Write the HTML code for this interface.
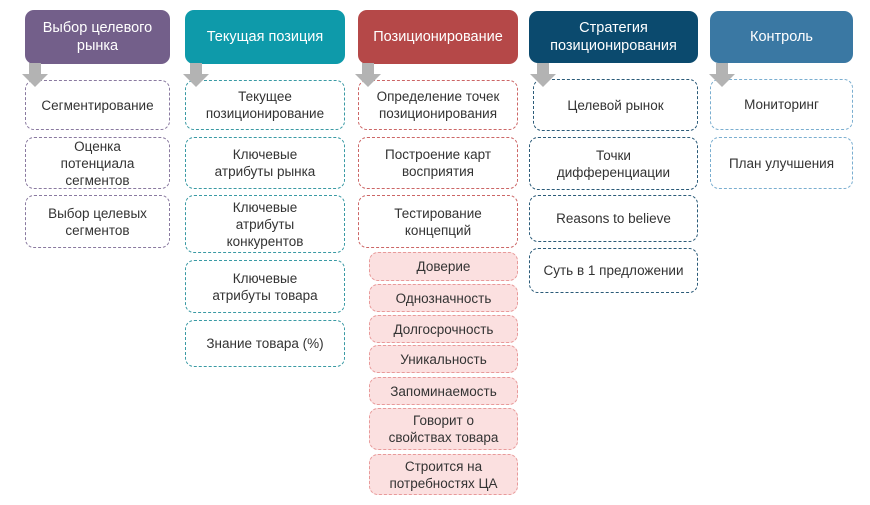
<!DOCTYPE html><html><head><meta charset="utf-8"><style>
body{margin:0;width:870px;height:505px;background:#fff;position:relative;overflow:hidden;font-family:"Liberation Sans","Noto Sans CJK SC",sans-serif}
.h{position:absolute;border-radius:9px;color:#fff;font-size:14.5px;display:flex;align-items:center;justify-content:center;text-align:center;line-height:18px}
.b{position:absolute;border-radius:9px;background:#fff;border:1.3px dashed;box-sizing:border-box;color:#333;font-size:13.5px;display:flex;align-items:center;justify-content:center;text-align:center;line-height:17px}
.p{background:#fbe0e0;border-color:#e89a9a}
.a{position:absolute;width:26px;height:24px}
</style></head><body>
<div class="h" style="left:25px;top:10px;width:145px;height:54px;background:#735f8a">Выбор целевого<br>рынка</div>
<div class="h" style="left:185px;top:10px;width:160px;height:54px;background:#0e9aaa">Текущая позиция</div>
<div class="h" style="left:358px;top:10px;width:160px;height:54px;background:#b54848">Позиционирование</div>
<div class="h" style="left:529px;top:11px;width:169px;height:52px;background:#0b4a6e">Стратегия<br>позиционирования</div>
<div class="h" style="left:710px;top:11px;width:143px;height:52px;background:#3a78a3">Контроль</div>

<div class="b" style="left:25px;top:80px;width:145px;height:50px;border-color:#8a7aa0">Сегментирование</div>
<div class="b" style="left:25px;top:137px;width:145px;height:52px;border-color:#8a7aa0">Оценка<br>потенциала<br>сегментов</div>
<div class="b" style="left:25px;top:195px;width:145px;height:53px;border-color:#8a7aa0">Выбор целевых<br>сегментов</div>

<div class="b" style="left:185px;top:80px;width:160px;height:50px;border-color:#3a9aa4">Текущее<br>позиционирование</div>
<div class="b" style="left:185px;top:137px;width:160px;height:52px;border-color:#3a9aa4">Ключевые<br>атрибуты рынка</div>
<div class="b" style="left:185px;top:195px;width:160px;height:58px;border-color:#3a9aa4">Ключевые<br>атрибуты<br>конкурентов</div>
<div class="b" style="left:185px;top:260px;width:160px;height:53px;border-color:#3a9aa4">Ключевые<br>атрибуты товара</div>
<div class="b" style="left:185px;top:320px;width:160px;height:47px;border-color:#3a9aa4">Знание товара (%)</div>

<div class="b" style="left:358px;top:80px;width:160px;height:50px;border-color:#c66">Определение точек<br>позиционирования</div>
<div class="b" style="left:358px;top:137px;width:160px;height:52px;border-color:#c66">Построение карт<br>восприятия</div>
<div class="b" style="left:358px;top:195px;width:160px;height:53px;border-color:#c66">Тестирование<br>концепций</div>
<div class="b p" style="left:369px;top:252px;width:149px;height:29px">Доверие</div>
<div class="b p" style="left:369px;top:284px;width:149px;height:28px">Однозначность</div>
<div class="b p" style="left:369px;top:315px;width:149px;height:28px">Долгосрочность</div>
<div class="b p" style="left:369px;top:345px;width:149px;height:28px">Уникальность</div>
<div class="b p" style="left:369px;top:377px;width:149px;height:28px">Запоминаемость</div>
<div class="b p" style="left:369px;top:408px;width:149px;height:42px">Говорит о<br>свойствах товара</div>
<div class="b p" style="left:369px;top:454px;width:149px;height:41px">Строится на<br>потребностях ЦА</div>

<div class="b" style="left:533px;top:79px;width:165px;height:52px;border-color:#2a5a78">Целевой рынок</div>
<div class="b" style="left:529px;top:137px;width:169px;height:53px;border-color:#2a5a78">Точки<br>дифференциации</div>
<div class="b" style="left:529px;top:195px;width:169px;height:47px;border-color:#2a5a78">Reasons to believe</div>
<div class="b" style="left:529px;top:248px;width:169px;height:45px;border-color:#2a5a78">Суть в 1 предложении</div>

<div class="b" style="left:710px;top:79px;width:143px;height:51px;border-color:#7aaed0">Мониторинг</div>
<div class="b" style="left:710px;top:137px;width:143px;height:52px;border-color:#7aaed0">План улучшения</div>

<svg class="a" style="left:22px;top:63px" viewBox="0 0 26 24"><path d="M7 0h12v11h7L13 24 0 11h7z" fill="#b3b3b3"/></svg>
<svg class="a" style="left:183px;top:63px" viewBox="0 0 26 24"><path d="M7 0h12v11h7L13 24 0 11h7z" fill="#b3b3b3"/></svg>
<svg class="a" style="left:355px;top:63px" viewBox="0 0 26 24"><path d="M7 0h12v11h7L13 24 0 11h7z" fill="#b3b3b3"/></svg>
<svg class="a" style="left:530px;top:63px" viewBox="0 0 26 24"><path d="M7 0h12v11h7L13 24 0 11h7z" fill="#b3b3b3"/></svg>
<svg class="a" style="left:709px;top:63px" viewBox="0 0 26 24"><path d="M7 0h12v11h7L13 24 0 11h7z" fill="#b3b3b3"/></svg>
</body></html>
